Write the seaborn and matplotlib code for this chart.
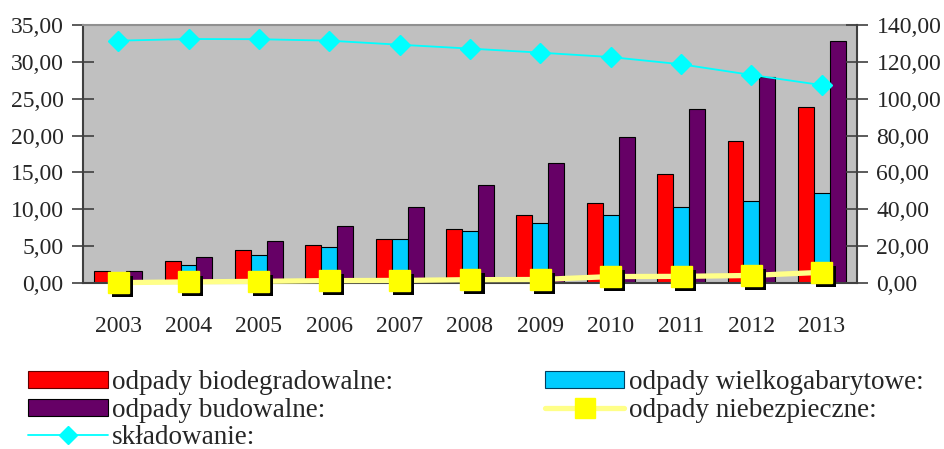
import pandas as pd
import matplotlib.pyplot as plt
import matplotlib.patheffects as pe
from matplotlib.patches import Patch
from matplotlib.lines import Line2D
from matplotlib.ticker import FixedLocator, FuncFormatter
import seaborn as sns

# dane
lata = ["2003", "2004", "2005", "2006", "2007", "2008", "2009", "2010", "2011", "2012", "2013"]
biodegradowalne = [1.65, 2.95, 4.45, 5.15, 6.0, 7.3, 9.25, 10.85, 14.85, 19.2, 23.9]
wielkogabarytowe = [0.0, 2.4, 3.85, 4.9, 6.0, 7.05, 8.15, 9.25, 10.3, 11.1, 12.2]
budowalne = [1.65, 3.5, 5.7, 7.8, 10.3, 13.25, 16.3, 19.8, 23.6, 27.95, 32.8]
niebezpieczne = [0.2, 0.6, 0.9, 1.3, 1.4, 1.8, 1.9, 3.5, 3.6, 4.1, 5.8]
skladowanie = [131.5, 132.4, 132.3, 131.5, 129.3, 127.2, 125.0, 122.6, 118.7, 112.9, 107.4]

rodzaje = ["odpady biodegradowalne:", "odpady wielkogabarytowe:", "odpady budowalne:"]
kolory = ["#FF0000", "#00CCFF", "#660066"]

df = pd.DataFrame({
    "rok": lata * 3,
    "wartosc": biodegradowalne + wielkogabarytowe + budowalne,
    "rodzaj": [r for r in rodzaje for _ in lata],
})

sns.set_style("white")
plt.rcParams["font.family"] = ["Liberation Serif", "DejaVu Serif"]
plt.rcParams["font.size"] = 17

fig = plt.figure(figsize=(9.45, 4.49), dpi=100)
ax = fig.add_axes([0.0878, 0.3697, 0.8191, 0.5746])
ax.set_facecolor("#C0C0C0")

sns.barplot(data=df, x="rok", y="wartosc", hue="rodzaj", order=lata, hue_order=rodzaje,
            palette=kolory, width=0.68, edgecolor="black", linewidth=0.8,
            saturation=1, ax=ax, legend=False, zorder=2)

ax.set_xlim(-0.5, 10.5)
ax.set_ylim(0, 35)
ax.set_xlabel("")
ax.set_ylabel("")

fmt = FuncFormatter(lambda v, p: f"{v:.2f}".replace(".", ","))
ax.set_yticks(range(0, 36, 5))
ax.yaxis.set_major_formatter(fmt)
ax.tick_params(axis="y", direction="inout", length=16, width=1.2, color="#404040", pad=6, labelsize=17)

# lata pod osią, kreski na granicach grup
ax.xaxis.set_major_locator(FixedLocator([i - 0.5 for i in range(12)]))
ax.xaxis.set_minor_locator(FixedLocator(range(11)))
ax.set_xticklabels([""] * 12)
ax.set_xticklabels(lata, minor=True)
ax.tick_params(axis="x", which="major", direction="out", length=7, width=1, color="#404040")
ax.tick_params(axis="x", which="minor", length=0, pad=24, labelsize=17)

for s in ["left", "bottom"]:
    ax.spines[s].set_color("#404040")
    ax.spines[s].set_linewidth(1.5)
ax.spines["top"].set_color("#909090")
ax.spines["top"].set_linewidth(1.5)
ax.spines["right"].set_visible(False)

ax2 = ax.twinx()
ax2.set_ylim(0, 140)
ax2.set_yticks(range(0, 141, 20))
ax2.yaxis.set_major_formatter(fmt)
ax2.tick_params(axis="y", direction="inout", length=16, width=1.2, color="#404040", pad=6, labelsize=17)
ax2.spines["right"].set_color("#404040")
ax2.spines["right"].set_linewidth(1.5)
for s in ["left", "top", "bottom"]:
    ax2.spines[s].set_visible(False)

x = list(range(len(lata)))
ax2.plot(x, skladowanie, color="#00FFFF", linewidth=1.3, marker="D", markersize=10,
         markerfacecolor="#00FFFF", markeredgecolor="#00FFFF", zorder=3)
ax2.plot(x, niebezpieczne, color="#FFFF88", linewidth=3.8, zorder=3, clip_on=False)
ax2.plot(x, niebezpieczne, linestyle="none", marker="s", markersize=15,
         markerfacecolor="#FFFF00", markeredgecolor="#FFFF00", zorder=4, clip_on=False,
         path_effects=[pe.SimplePatchShadow(offset=(3, -3), shadow_rgbFace="black", alpha=1.0),
                       pe.Normal()])

uchwyty = [
    Patch(facecolor=kolory[0], edgecolor="#600000", linewidth=0.8),
    Patch(facecolor=kolory[2], edgecolor="black", linewidth=0.8),
    Line2D([], [], color="#00FFFF", linewidth=1.3, marker="D", markersize=9, markeredgecolor="#00FFFF"),
    Patch(facecolor=kolory[1], edgecolor="#004060", linewidth=0.8),
    Line2D([], [], color="#FFFF88", linewidth=3.8, marker="s", markersize=15,
           markerfacecolor="#FFFF00", markeredgecolor="#FFFF00"),
]
etykiety = ["odpady biodegradowalne:", "odpady budowalne:", "składowanie:",
            "odpady wielkogabarytowe:", "odpady niebezpieczne:"]
fig.legend(uchwyty, etykiety, loc="upper left", bbox_to_anchor=(0.018, 0.2), ncol=2,
           frameon=False, fontsize=19.5, handlelength=2.95, handleheight=0.6,
           handletextpad=0.15, columnspacing=5.6, labelspacing=0.1, borderaxespad=0)

plt.savefig("out.png", dpi=100)
